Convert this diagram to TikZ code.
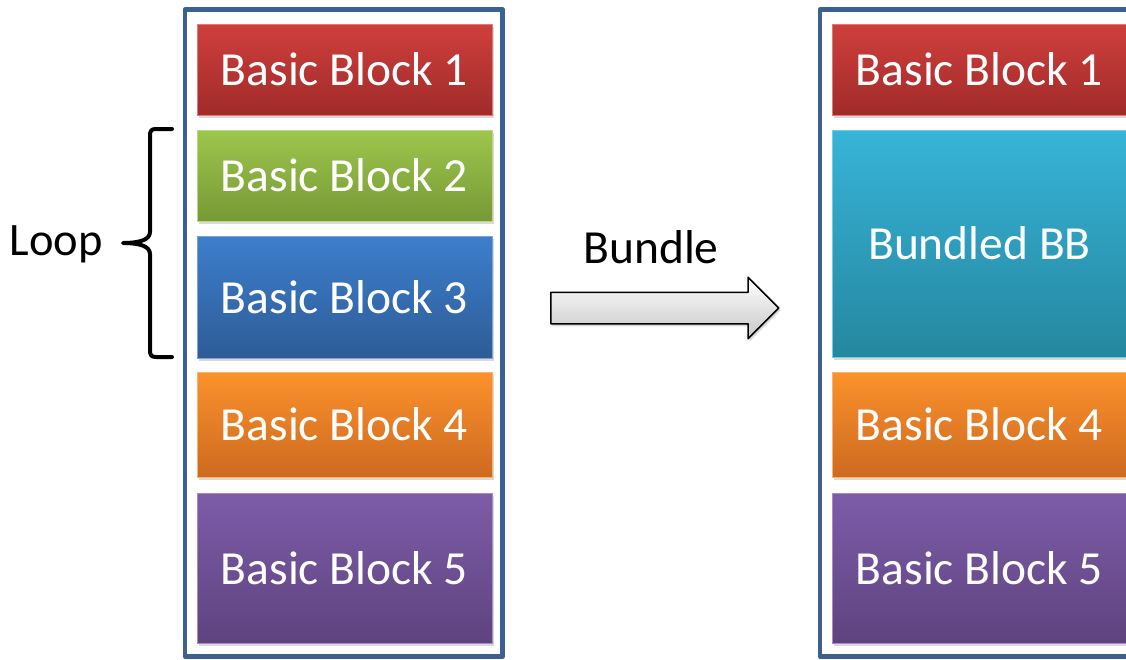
\documentclass[tikz,border=0pt]{standalone}
\usepackage{fontspec}
\setmainfont{Carlito}
\usetikzlibrary{shapes.arrows,shadows}

\definecolor{frameblue}{HTML}{3C6191}
\definecolor{redT}{HTML}{CF3F3C}\definecolor{redB}{HTML}{A02B2A}
\definecolor{greenT}{HTML}{9DC64C}\definecolor{greenB}{HTML}{779936}
\definecolor{blueT}{HTML}{3D7ECC}\definecolor{blueB}{HTML}{2D5C97}
\definecolor{orangeT}{HTML}{FC912C}\definecolor{orangeB}{HTML}{CC6A1F}
\definecolor{purpleT}{HTML}{7D5CA8}\definecolor{purpleB}{HTML}{5E437F}
\definecolor{cyanT}{HTML}{37B4D8}\definecolor{cyanB}{HTML}{25879F}

\tikzset{
  frame/.style={draw=frameblue,line width=4.5pt},
  bb/.style 2 args={minimum width=295pt,inner sep=0pt,text=white,
    top color=#1,bottom color=#2,draw=#1!70!white,line width=0.6pt,
    drop shadow={opacity=0.3,shadow xshift=1.5pt,shadow yshift=-2.5pt},
    font=\fontsize{47.5}{57}\selectfont},
  lbl/.style={font=\fontsize{47.5}{57}\selectfont,inner sep=0pt}
}

\begin{document}
\begin{tikzpicture}[x=1pt,y=-1pt,line cap=round,line join=round]
  \clip (0,0) rectangle (1126,659);

  % Left column: the five blocks.
  \draw[frame] (185,9.5) rectangle (502.5,656.5);
  \node[bb={redT}{redB},minimum height=91pt] (l1) at (344.5,69.5) {Basic Block 1};
  \node[bb={greenT}{greenB},minimum height=91pt] (l2) at (344.5,175.5) {Basic Block 2};
  \node[bb={blueT}{blueB},minimum height=122pt] (l3) at (344.5,297) {Basic Block 3};
  \node[bb={orangeT}{orangeB},minimum height=105pt] (l4) at (344.5,424.5) {Basic Block 4};
  \node[bb={purpleT}{purpleB},minimum height=150pt] (l5) at (344.5,568) {Basic Block 5};

  % Brace around blocks 2 and 3.
  \coordinate (bt) at (172,129);
  \coordinate (bb) at (172,357);
  \node[lbl,anchor=east,font=\fontsize{46.5}{56}\selectfont] (loop) at (103,244) {Loop};
  \draw[line width=4pt]
    (bt) -- (156,129) .. controls (151,129) and (150,131) .. (150,136)
    -- (150,232) .. controls (150,240) and (139,243) .. (123,243)
    .. controls (139,243) and (150,246) .. (150,254)
    -- (150,350) .. controls (150,355) and (151,357) .. (156,357) -- (bb);

  % Bundle arrow.
  \node[lbl] (bundle) at (651,247) {Bundle};
  \node[single arrow,draw=black,line width=1.5pt,inner sep=0pt,anchor=tail,
    minimum height=228pt,minimum width=60pt,single arrow head extend=15pt,
    text height=30pt,text depth=0pt,top color=white,bottom color=black!22,
    drop shadow={opacity=0.3,shadow xshift=1.5pt,shadow yshift=-2.5pt}]
    (bundlearrow) at (550,308) {};

  % Right column: blocks 2 and 3 bundled.
  \begin{scope}[xshift=635pt]
    \draw[frame] (185,9.5) rectangle (502.5,656.5);
    \node[bb={redT}{redB},minimum height=91pt] (r1) at (344.5,69.5) {Basic Block 1};
    \node[bb={cyanT}{cyanB},minimum height=227pt] (rb) at (344.5,243.5) {Bundled BB};
    \node[bb={orangeT}{orangeB},minimum height=105pt] (r4) at (344.5,424.5) {Basic Block 4};
    \node[bb={purpleT}{purpleB},minimum height=150pt] (r5) at (344.5,568) {Basic Block 5};
  \end{scope}
\end{tikzpicture}
\end{document}
